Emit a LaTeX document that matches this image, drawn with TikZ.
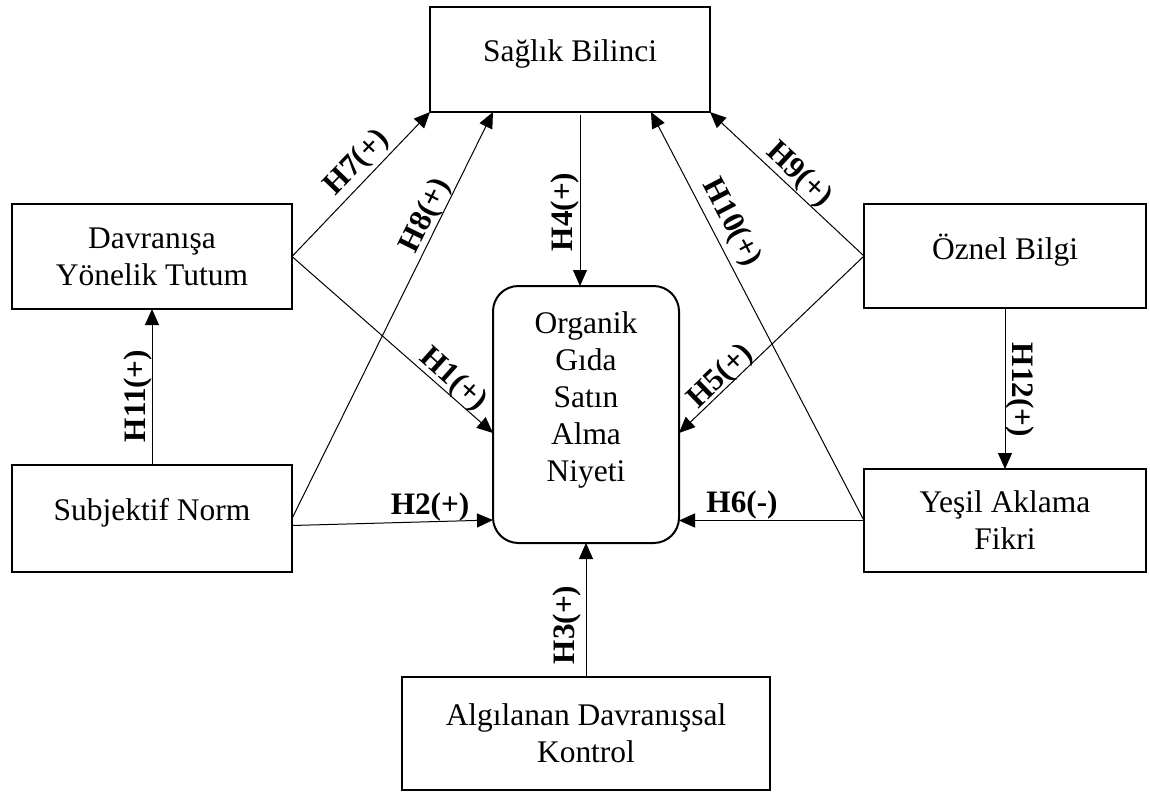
\documentclass[tikz,border=0pt]{standalone}
\usepackage{fontspec}
\setmainfont{Liberation Serif}
\usetikzlibrary{arrows.meta,calc}
\begin{document}
\begin{tikzpicture}[x=0.75pt,y=-0.75pt,
  boxtxt/.style={font=\fontsize{23.6}{27.8}\selectfont},
  cbox/.style={draw,line width=1.5pt,outer sep=0pt,inner sep=0pt,align=center,boxtxt},
  oneline/.style={text depth=14pt},
  conn/.style={line width=0.75pt,-{Triangle[length=12pt,width=10.5pt]}},
  hlab/.style={font=\bfseries\fontsize{23.4}{27}\selectfont,inner sep=0pt}]
\useasboundingbox (0,0) rectangle (1150,792);
% boxes
\node[cbox,oneline,minimum width=210pt,minimum height=78.75pt] (sag) at (570,59.5) {Sağlık Bilinci};
\node[cbox,minimum width=210pt,minimum height=78.75pt] (dav) at (152,256.5) {Davranışa\\Yönelik Tutum};
\node[cbox,oneline,minimum width=210pt,minimum height=80.25pt] (sub) at (152,518.5) {Subjektif Norm};
\node[cbox,oneline,minimum width=211.5pt,minimum height=78pt] (ozn) at (1005,256) {Öznel Bilgi};
\node[cbox,minimum width=211.5pt,minimum height=77.25pt] (yes) at (1005,520.5) {Yeşil Aklama\\Fikri};
\node[cbox,minimum width=276pt,minimum height=84.75pt] (alg) at (586,733.5) {Algılanan Davranışsal\\Kontrol};
\node[cbox,rounded corners=19pt,minimum width=139.5pt,minimum height=192.75pt] (org) at (586,414.5) {};
\node[boxtxt,align=center,inner sep=0pt] (orgtxt) at (586,400) {Organik\\Gıda\\Satın\\Alma\\Niyeti};
% connectors
\draw[conn] (dav.east) -- (sag.south west);
\draw[conn] (dav.east) -- ($(org.west)+(0,18.5)$);
\draw[conn] (sub.east) -- ($(sag.south west)+(63,0)$);
\draw[conn] ($(sub.east)+(0,7)$) -- ($(org.west)+(0,105.5)$);
\draw[conn] (sub.north) -- (dav.south);
\draw[conn] (ozn.west) -- (sag.south east);
\draw[conn] (yes.west) -- ($(sag.south east)+(-59,0)$);
\draw[conn] (ozn.west) -- ($(org.east)+(0,18.5)$);
\draw[conn] (yes.west) -- (org.east |- yes.west);
\draw[conn] (ozn.south) -- (yes.north);
\draw[conn] ($(sag.south)+(10,3)$) -- ($(org.north)+(-6,0)$);
\draw[conn] (alg.north) -- (org.south);
% labels
\node[hlab,rotate=46] (l7) at (357,163) {H7(+)};
\node[hlab,rotate=63.7] (l8) at (426,216) {H8(+)};
\node[hlab,rotate=90] (l4) at (565,212) {H4(+)};
\node[hlab,rotate=-62.4] (l10) at (731,223) {H10(+)};
\node[hlab,rotate=-43] (l9) at (799,175) {H9(+)};
\node[hlab,rotate=-41.8] (l1) at (453,380) {H1(+)};
\node[hlab,rotate=44] (l5) at (721,377) {H5(+)};
\node[hlab] (l2) at (430,507) {H2(+)};
\node[hlab] (l6) at (742,505) {H6(-)};
\node[hlab,rotate=90] (l3) at (567,625) {H3(+)};
\node[hlab,rotate=90] (l11) at (138,396) {H11(+)};
\node[hlab,rotate=-90] (l12) at (1020,390) {H12(+)};
\end{tikzpicture}
\end{document}
